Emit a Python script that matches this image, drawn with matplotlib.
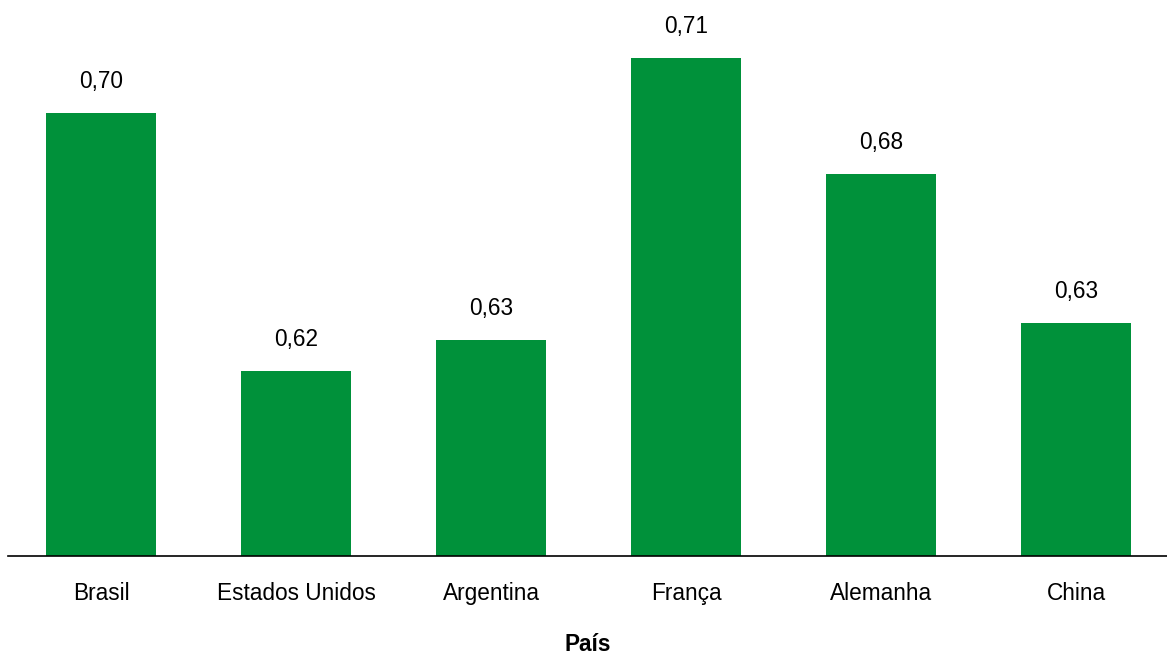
import numpy as np
import matplotlib.pyplot as plt

plt.rcParams['font.family'] = ['Liberation Sans', 'DejaVu Sans']

paises = ['Brasil', 'Estados Unidos', 'Argentina', 'França', 'Alemanha', 'China']
valores = [0.696, 0.620, 0.629, 0.712, 0.678, 0.634]

fig = plt.figure(figsize=(11.67, 6.55), dpi=100)
ax = fig.add_axes([8 / 1167, 99 / 655, 1 - 8 / 1167, 546 / 655])

x = np.arange(len(paises))
base = 0.5656
bars = ax.bar(x, np.array(valores) - base, bottom=base, width=0.565, color='#00913A')

for xi, v in zip(x, valores):
    ax.annotate(f'{v:.2f}'.replace('.', ','), (xi, v), xytext=(0, 14.5), textcoords='offset points',
                ha='center', va='bottom', fontsize=16.3)

ax.set_ylim(base, base + 546 / 3400)
ax.set_xlim(-0.477, 5.467)
ax.set_xticks(x)
ax.set_xticklabels(paises, fontsize=16.3)
ax.tick_params(axis='x', length=0, pad=19)
ax.set_yticks([])
ax.set_xlabel('País', fontsize=16.3, fontweight='bold', labelpad=20)
for s in ['top', 'right', 'left']:
    ax.spines[s].set_visible(False)
ax.spines['bottom'].set_linewidth(1.2)

fig.savefig('out.png', dpi=100)
